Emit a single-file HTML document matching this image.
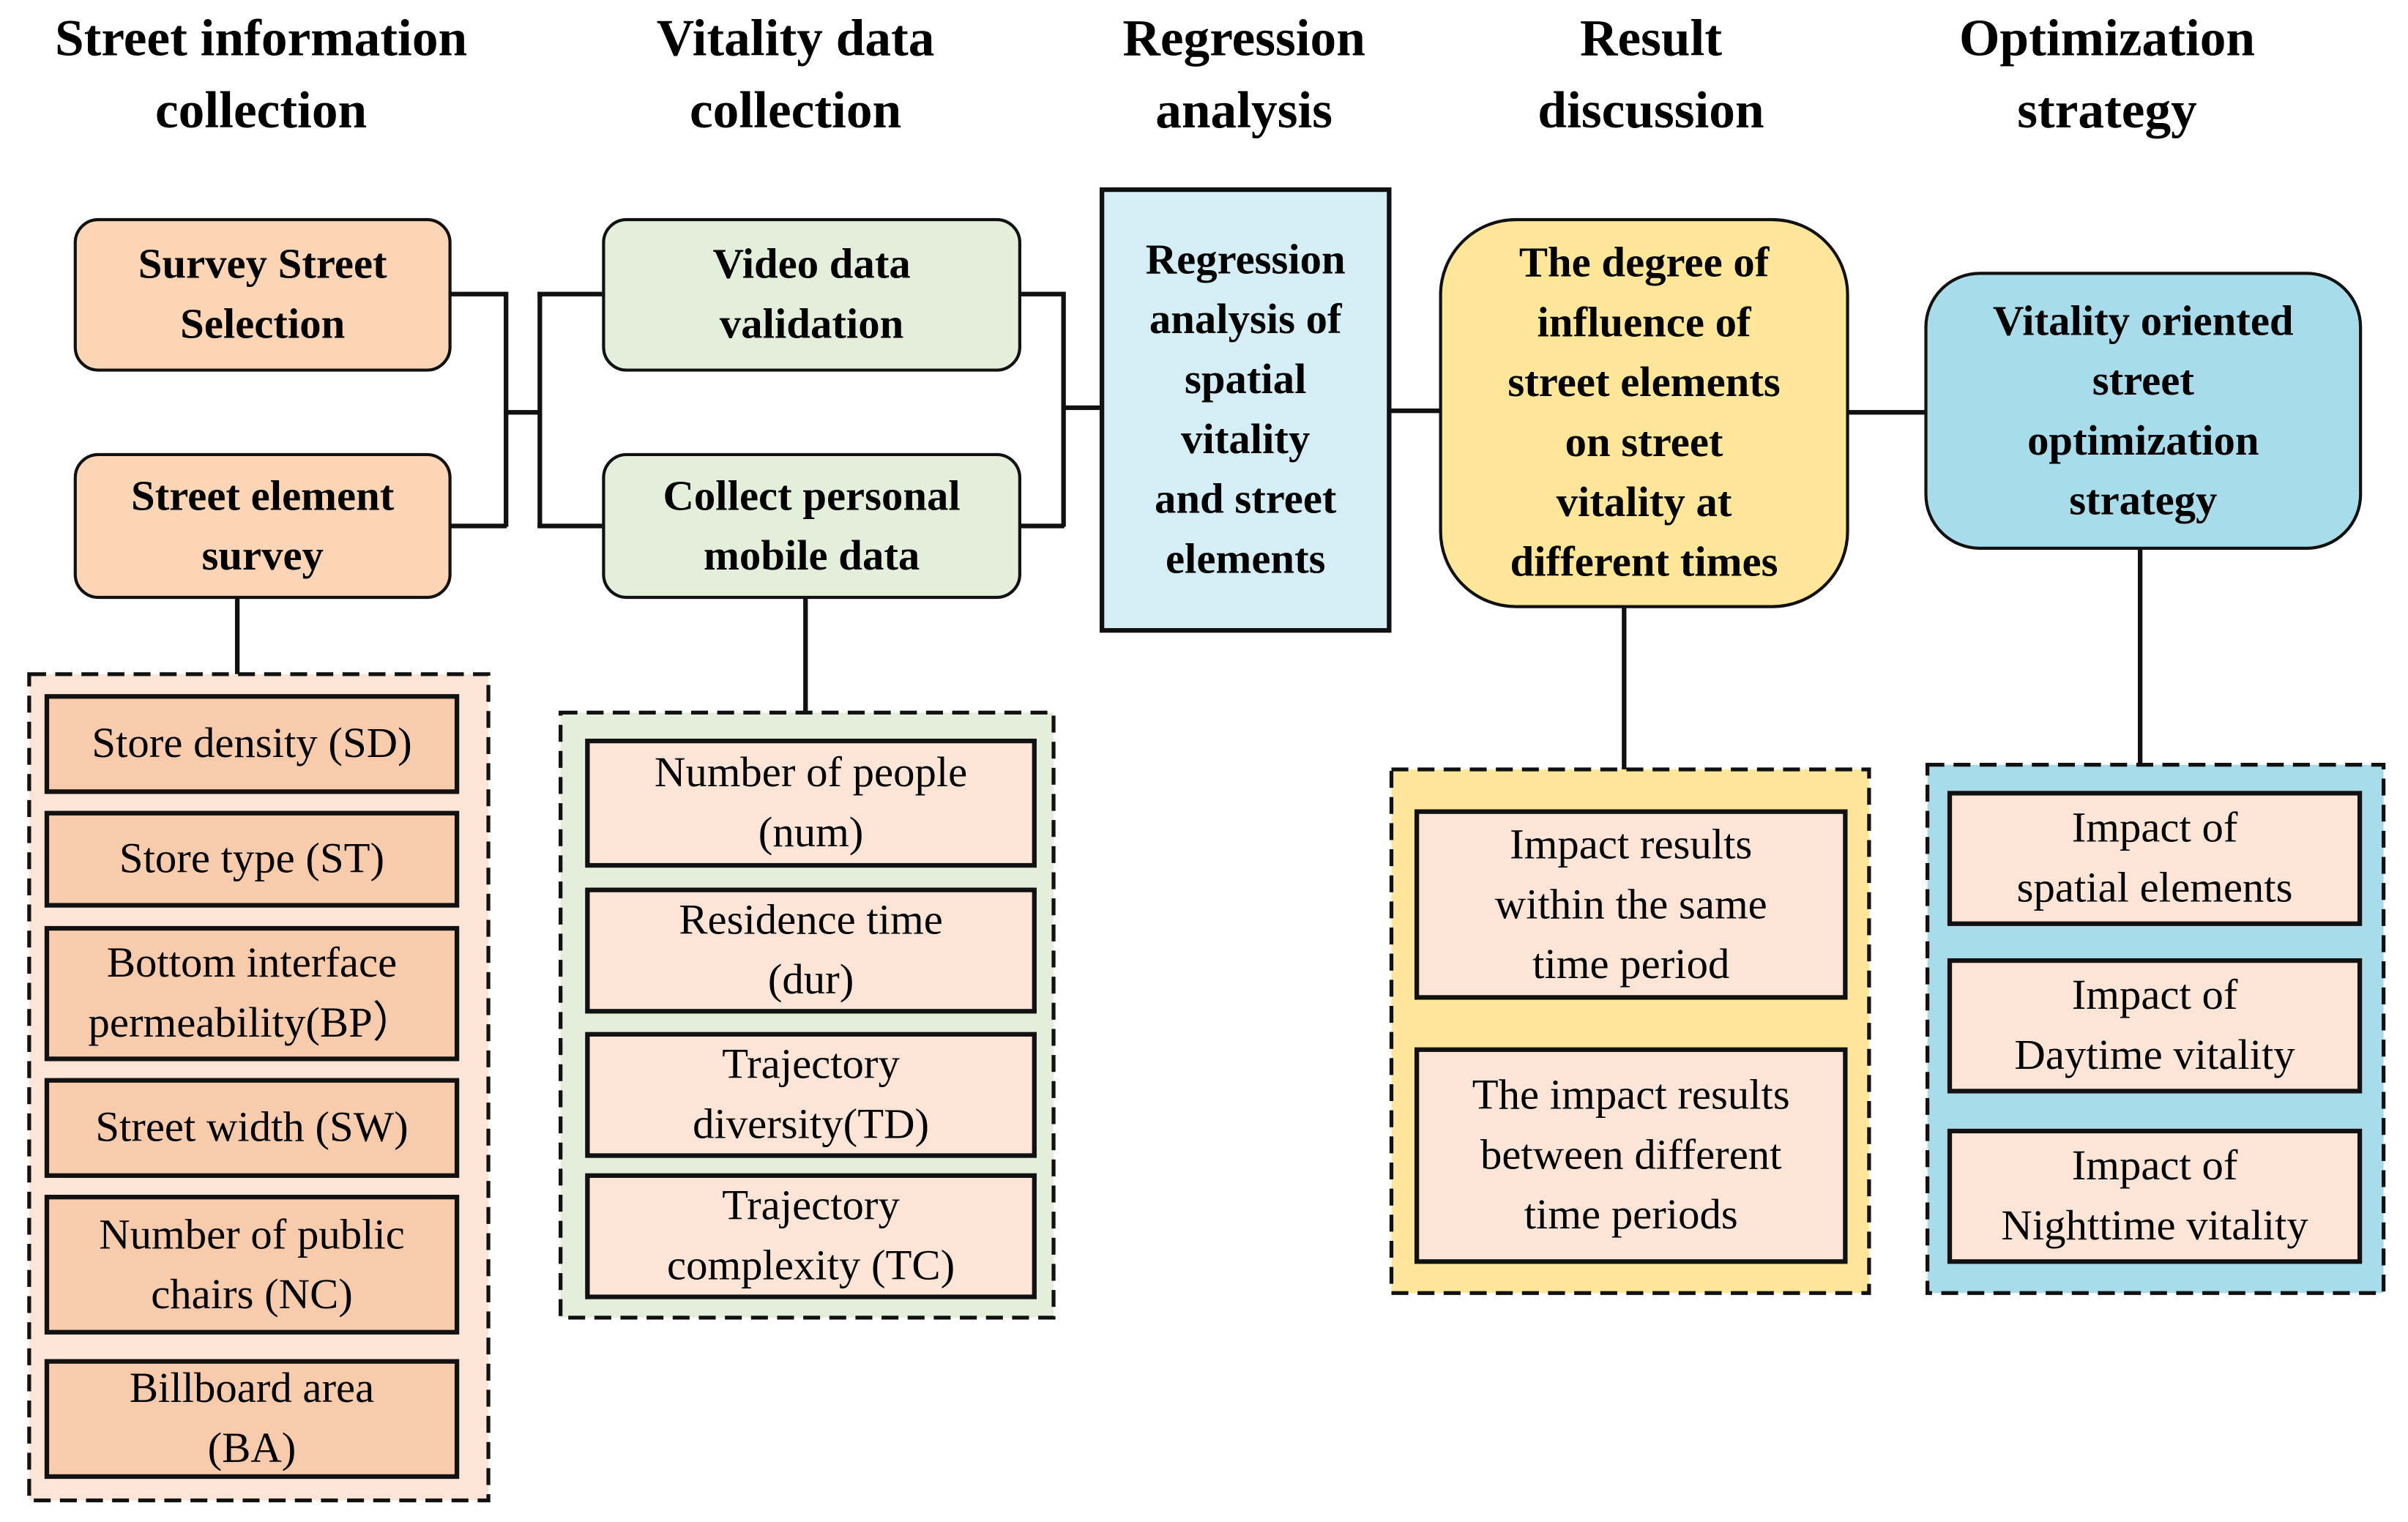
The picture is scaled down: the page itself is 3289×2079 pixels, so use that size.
<!DOCTYPE html>
<html><head><meta charset="utf-8"><style>
html,body{margin:0;padding:0;background:#fff;}
body{width:3289px;height:2079px;overflow:hidden;position:relative;}
#c{position:absolute;left:0;top:0;width:1568px;height:991px;transform:scale(2.0977);transform-origin:0 0;font-family:"Liberation Serif","Times New Roman",Times,"Nimbus Roman","DejaVu Serif",serif;color:#000;}
.a{position:absolute;box-sizing:border-box;display:flex;align-items:center;justify-content:center;text-align:center;}
.h{font-weight:bold;font-size:34px;line-height:47px;}
.b{font-weight:bold;font-size:28px;line-height:39px;border:2.5px solid #111;}
.i{font-size:28px;line-height:39px;border:3px solid #111;}
.d{position:absolute;overflow:visible;}
.l{position:absolute;background:#111;}
</style></head><body><div id="c">
<div class="a h" style="left:0;top:2px;width:340px;height:94px">Street information<br>collection</div>
<div class="a h" style="left:368px;top:2px;width:300px;height:94px">Vitality data<br>collection</div>
<div class="a h" style="left:690px;top:2px;width:240px;height:94px">Regression<br>analysis</div>
<div class="a h" style="left:950px;top:2px;width:250px;height:94px">Result<br>discussion</div>
<div class="a h" style="left:1240px;top:2px;width:264px;height:94px">Optimization<br>strategy</div>

<div class="l" style="left:293px;top:190px;width:37px;height:2.5px"></div>
<div class="l" style="left:293px;top:341px;width:37px;height:2.5px"></div>
<div class="l" style="left:328px;top:190px;width:2.5px;height:153px"></div>
<div class="l" style="left:328px;top:267px;width:24px;height:2.5px"></div>
<div class="l" style="left:350px;top:190px;width:2.5px;height:153px"></div>
<div class="l" style="left:350px;top:190px;width:42px;height:2.5px"></div>
<div class="l" style="left:350px;top:341px;width:42px;height:2.5px"></div>
<div class="l" style="left:664px;top:190px;width:29px;height:2.5px"></div>
<div class="l" style="left:664px;top:341px;width:29px;height:2.5px"></div>
<div class="l" style="left:691px;top:190px;width:2.5px;height:153px"></div>
<div class="l" style="left:691px;top:264px;width:26px;height:2.5px"></div>
<div class="l" style="left:905px;top:266px;width:33px;height:2.5px"></div>
<div class="l" style="left:1203px;top:267px;width:51px;height:2.5px"></div>
<div class="l" style="left:153px;top:389px;width:2.5px;height:50px"></div>
<div class="l" style="left:523px;top:389px;width:2.5px;height:75px"></div>
<div class="l" style="left:1056px;top:395px;width:2.5px;height:106px"></div>
<div class="l" style="left:1392px;top:357px;width:2.5px;height:159px"></div>

<div class="a b" style="left:48px;top:142px;width:246px;height:100px;border-radius:16px;background:#fbd5b5">Survey Street<br>Selection</div>
<div class="a b" style="left:48px;top:295px;width:246px;height:95px;border-radius:16px;background:#fbd5b5">Street element<br>survey</div>
<div class="a b" style="left:392px;top:142px;width:273px;height:100px;border-radius:16px;background:#e3efdb">Video data<br>validation</div>
<div class="a b" style="left:392px;top:295px;width:273px;height:95px;border-radius:16px;background:#e3efdb">Collect personal<br>mobile data</div>
<div class="a b" style="left:716px;top:122px;width:190px;height:290px;background:#d5eef5;border-width:3px">Regression<br>analysis of<br>spatial<br>vitality<br>and street<br>elements</div>
<div class="a b" style="left:937px;top:142px;width:267px;height:254px;border-radius:50px;background:#ffe699">The degree of<br>influence of<br>street elements<br>on street<br>vitality at<br>different times</div>
<div class="a b" style="left:1253px;top:177px;width:285px;height:181px;border-radius:36px;background:#a8dcea">Vitality oriented<br>street<br>optimization<br>strategy</div>

<svg class="d" style="left:0;top:0" width="1568" height="991">
<g stroke="#111" stroke-width="2.5" stroke-dasharray="11 6">
<rect x="19" y="439" width="299" height="538" fill="#fce4d6"/>
<rect x="365" y="464" width="321" height="394" fill="#e3efdb"/>
<rect x="906" y="501" width="311" height="341" fill="#ffe699"/>
<rect x="1255" y="498" width="297" height="344" fill="#a8dcea"/>
</g></svg>

<div class="a i" style="left:29px;top:452px;width:270px;height:65px;background:#f8cbad">Store density (SD)</div>
<div class="a i" style="left:29px;top:528px;width:270px;height:63px;background:#f8cbad">Store type (ST)</div>
<div class="a i" style="left:29px;top:603px;width:270px;height:88px;background:#f8cbad">Bottom interface<br>permeability(BP）</div>
<div class="a i" style="left:29px;top:702px;width:270px;height:65px;background:#f8cbad">Street width (SW)</div>
<div class="a i" style="left:29px;top:778px;width:270px;height:91px;background:#f8cbad">Number of public<br>chairs (NC)</div>
<div class="a i" style="left:29px;top:885px;width:270px;height:78px;background:#f8cbad">Billboard area<br>(BA)</div>

<div class="a i" style="left:381px;top:481px;width:294px;height:84px;background:#fce4d6">Number of people<br>(num)</div>
<div class="a i" style="left:381px;top:578px;width:294px;height:82px;background:#fce4d6">Residence time<br>(dur)</div>
<div class="a i" style="left:381px;top:672px;width:294px;height:82px;background:#fce4d6">Trajectory<br>diversity(TD)</div>
<div class="a i" style="left:381px;top:764px;width:294px;height:82px;background:#fce4d6">Trajectory<br>complexity (TC)</div>

<div class="a i" style="left:921px;top:527px;width:282px;height:124px;background:#fce4d6">Impact results<br>within the same<br>time period</div>
<div class="a i" style="left:921px;top:682px;width:282px;height:141px;background:#fce4d6">The impact results<br>between different<br>time periods</div>

<div class="a i" style="left:1268px;top:515px;width:270px;height:88px;background:#fce4d6">Impact of<br>spatial elements</div>
<div class="a i" style="left:1268px;top:624px;width:270px;height:88px;background:#fce4d6">Impact of<br>Daytime vitality</div>
<div class="a i" style="left:1268px;top:735px;width:270px;height:88px;background:#fce4d6">Impact of<br>Nighttime vitality</div>
</div></body></html>
